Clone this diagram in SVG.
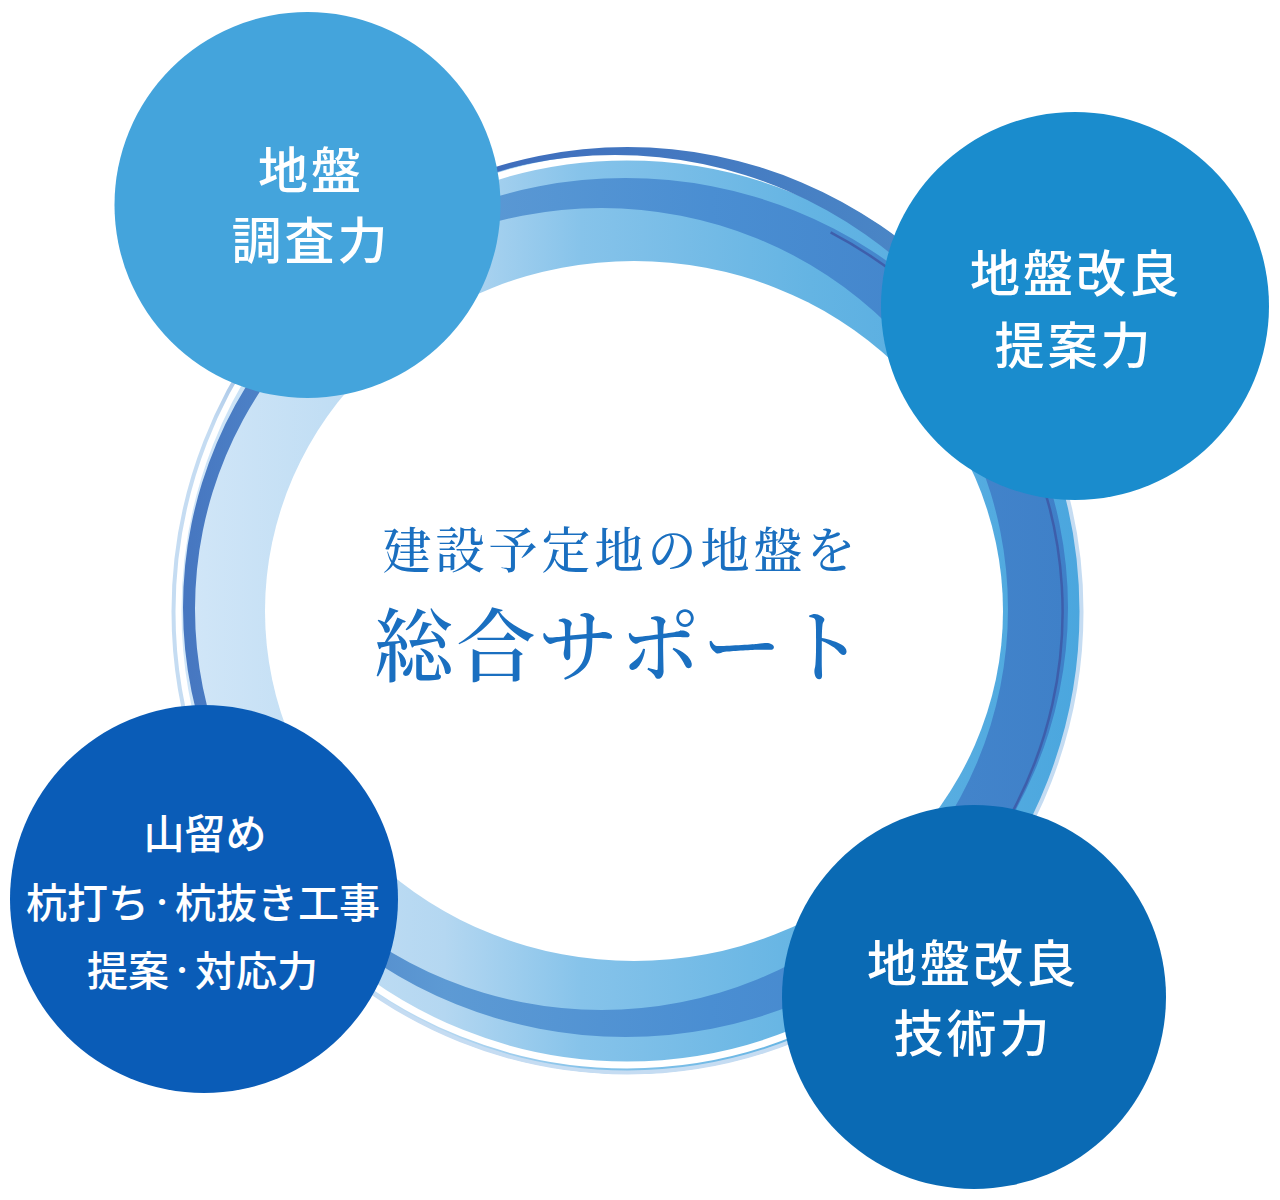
<svg xmlns="http://www.w3.org/2000/svg" width="1280" height="1200" viewBox="0 0 1280 1200">
<style>
.node text{font-family:"Noto Sans CJK JP","Noto Sans CJK SC",sans-serif;fill:#ffffff;text-anchor:middle;font-weight:500}
.node text.l{text-anchor:start}
.big{font-size:50px;letter-spacing:3px}
.small{font-size:41px}
.dot{font-size:26px;font-weight:700}
.center{font-family:"Noto Serif CJK JP","Noto Sans CJK JP",serif;fill:#1a6fc0;text-anchor:middle;font-weight:500}
</style>
<defs>
<linearGradient id="gBase" gradientUnits="userSpaceOnUse" x1="170" y1="612" x2="1085" y2="612">
<stop offset="0" stop-color="#d3e7f8"/>
<stop offset="0.3" stop-color="#b4d7f1"/>
<stop offset="0.45" stop-color="#86c3ea"/>
<stop offset="0.7" stop-color="#64b4e3"/>
<stop offset="1" stop-color="#4aa6de"/>
</linearGradient>
<linearGradient id="gMed" gradientUnits="userSpaceOnUse" x1="180" y1="612" x2="1065" y2="612">
<stop offset="0" stop-color="#4676c0"/>
<stop offset="0.3" stop-color="#5d9ad4"/>
<stop offset="0.6" stop-color="#4a8ed2"/>
<stop offset="1" stop-color="#3f80c8"/>
</linearGradient>
<linearGradient id="gOuter" gradientUnits="userSpaceOnUse" x1="627" y1="150" x2="627" y2="1075">
<stop offset="0" stop-color="#3f70bf"/>
<stop offset="0.12" stop-color="#6f9ad2"/>
<stop offset="0.3" stop-color="#c5dcf2"/>
<stop offset="1" stop-color="#c5dcf2"/>
</linearGradient>
<linearGradient id="gWhite" gradientUnits="userSpaceOnUse" x1="170" y1="612" x2="1080" y2="612">
<stop offset="0" stop-color="#ffffff" stop-opacity="1"/>
<stop offset="0.78" stop-color="#ffffff" stop-opacity="1"/>
<stop offset="0.92" stop-color="#ffffff" stop-opacity="0"/>
</linearGradient>
<linearGradient id="gTop" gradientUnits="userSpaceOnUse" x1="480" y1="200" x2="900" y2="200">
<stop offset="0" stop-color="#3e6cbc"/>
<stop offset="1" stop-color="#4a86c6"/>
</linearGradient>
<clipPath id="topClip"><rect x="480" y="130" width="420" height="170"/></clipPath>
</defs>

<g id="ring">
<ellipse cx="627.5" cy="612" rx="455" ry="462" fill="url(#gBase)"/>
<ellipse cx="627" cy="611" rx="449" ry="454" fill="none" stroke="url(#gWhite)" stroke-width="7"/>
<ellipse cx="627.5" cy="611.5" rx="454" ry="461" fill="none" stroke="url(#gOuter)" stroke-width="4"/>
<path fill="url(#gMed)" fill-rule="evenodd" d="M183 607.5 A442.5 429.5 0 1 1 1068 607.5 A442.5 429.5 0 1 1 183 607.5 Z M195 609 A406.5 401 0 1 0 1008 609 A406.5 401 0 1 0 195 609 Z"/>
<path clip-path="url(#topClip)" fill="url(#gTop)" fill-rule="evenodd" d="M172.5 612 A455 465 0 1 1 1082.5 612 A455 465 0 1 1 172.5 612 Z M165 625 A450 470 0 1 0 1065 625 A450 470 0 1 0 165 625 Z"/>
<path d="M830.6 232.4 A438 430 0 0 1 876 964" fill="none" stroke="#3d58a6" stroke-width="2.5" opacity="0.85"/>
<ellipse cx="634" cy="611" rx="369" ry="350" fill="#ffffff"/>
</g>

<g id="center-label">
<text class="center" x="621" y="568" font-size="49" letter-spacing="4">建設予定地の地盤を</text>
<text class="center" x="620" y="675" font-size="80" letter-spacing="2">総合サポート</text>
</g>

<g id="node-survey" class="node">
<circle cx="307.5" cy="205" r="193" fill="#44a4dc"/>
<text class="big" x="311" y="189">地盤</text>
<text class="big" x="311" y="259">調査力</text>
</g>

<g id="node-proposal" class="node">
<circle cx="1075" cy="306" r="194" fill="#1a8ccd"/>
<text class="big" x="1076" y="292">地盤改良</text>
<text class="big" x="1074" y="364">提案力</text>
</g>

<g id="node-construction" class="node">
<circle cx="204" cy="899" r="194" fill="#0a5cb7"/>
<text class="small" x="205" y="849">山留め</text>
<text class="small l" x="26" y="918">杭打ち</text>
<text class="dot" x="162" y="912">・</text>
<text class="small l" x="175" y="918">杭抜き工事</text>
<text class="small l" x="87" y="986">提案</text>
<text class="dot" x="182" y="980">・</text>
<text class="small l" x="195" y="986">対応力</text>
</g>

<g id="node-technique" class="node">
<circle cx="974" cy="997" r="192" fill="#0a6ab4"/>
<text class="big" x="973" y="982">地盤改良</text>
<text class="big" x="973" y="1052">技術力</text>
</g>

<g id="connectors"></g>
</svg>
